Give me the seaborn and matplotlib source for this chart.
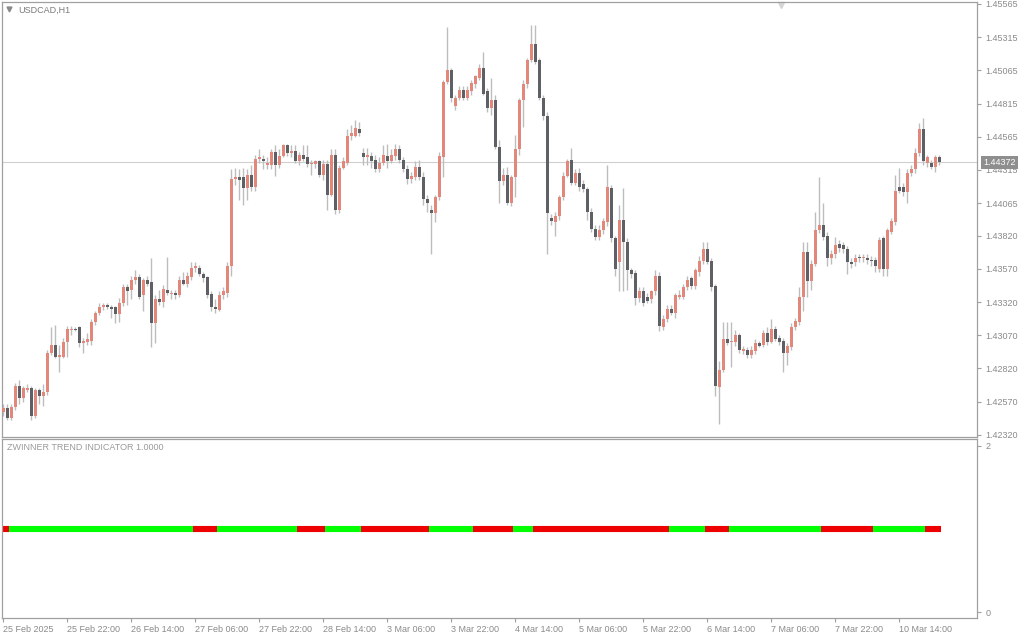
import numpy as np
import pandas as pd
import matplotlib
matplotlib.use("Agg")
import matplotlib.pyplot as plt
import matplotlib.transforms as mtransforms
import seaborn as sns

# USDCAD H1 candles (oldest first)
bar_open = [
    1.4249, 1.4252, 1.4245, 1.4253, 1.4269, 1.4260, 1.4266, 1.4267, 1.4246, 1.4266,
    1.4261, 1.4264, 1.4294, 1.4300, 1.4291, 1.4291, 1.4302, 1.4311, 1.4312, 1.4313,
    1.4301, 1.4302, 1.4303, 1.4317, 1.4324, 1.4328, 1.4330, 1.4328, 1.4328, 1.4323,
    1.4331, 1.4343, 1.4341, 1.4349, 1.4351, 1.4337, 1.4349, 1.4347, 1.4316, 1.4334,
    1.4332, 1.4341, 1.4338, 1.4339, 1.4337, 1.4349, 1.4346, 1.4351, 1.4358, 1.4358,
    1.4353, 1.4351, 1.4338, 1.4328, 1.4326, 1.4337, 1.4339, 1.4359, 1.4425, 1.4426,
    1.4426, 1.4418, 1.4428, 1.4419, 1.4440, 1.4440, 1.4435, 1.4435, 1.4445, 1.4435,
    1.4442, 1.4450, 1.4444, 1.4446, 1.4438, 1.4443, 1.4441, 1.4436, 1.4436, 1.4438,
    1.4428, 1.4436, 1.4413, 1.4443, 1.4401, 1.4433, 1.4437, 1.4457, 1.4457, 1.4462,
    1.4444, 1.4441, 1.4442, 1.4439, 1.4432, 1.4437, 1.4442, 1.4438, 1.4442, 1.4447,
    1.4439, 1.4432, 1.4425, 1.4426, 1.4434, 1.4426, 1.4410, 1.4401, 1.4399, 1.4411,
    1.4441, 1.4498, 1.4507, 1.4480, 1.4486, 1.4492, 1.4486, 1.4491, 1.4496, 1.4501,
    1.4508, 1.4491, 1.4478, 1.4484, 1.4449, 1.4423, 1.4428, 1.4407, 1.4426, 1.4447,
    1.4484, 1.4496, 1.4514, 1.4526, 1.4514, 1.4486, 1.4472, 1.4395, 1.4392, 1.4397,
    1.4411, 1.4427, 1.4439, 1.4422, 1.4429, 1.4421, 1.4417, 1.4400, 1.4387, 1.4381,
    1.4386, 1.4392, 1.4418, 1.4380, 1.4362, 1.4394, 1.4377, 1.4356, 1.4354, 1.4335,
    1.4340, 1.4336, 1.4334, 1.4340, 1.4352, 1.4313, 1.4319, 1.4327, 1.4324, 1.4336,
    1.4336, 1.4343, 1.4350, 1.4344, 1.4355, 1.4363, 1.4372, 1.4363, 1.4344, 1.4268,
    1.4281, 1.4304, 1.4302, 1.4302, 1.4307, 1.4295, 1.4296, 1.4292, 1.4295, 1.4301,
    1.4300, 1.4309, 1.4302, 1.4312, 1.4305, 1.4303, 1.4294, 1.4298, 1.4313, 1.4317,
    1.4336, 1.4370, 1.4348, 1.4361, 1.4386, 1.4390, 1.4382, 1.4365, 1.4368, 1.4376,
    1.4375, 1.4372, 1.4362, 1.4362, 1.4366, 1.4365, 1.4365, 1.4364, 1.4364, 1.4357,
    1.4380, 1.4357, 1.4385, 1.4392, 1.4419, 1.4419, 1.4415, 1.4429, 1.4432, 1.4444,
    1.4462, 1.4437, 1.4437, 1.4434, 1.4441,
]
bar_high = [
    1.4255, 1.4255, 1.4255, 1.4271, 1.4273, 1.4269, 1.4270, 1.4269, 1.4267, 1.4267,
    1.4270, 1.4296, 1.4313, 1.4315, 1.4300, 1.4305, 1.4314, 1.4314, 1.4313, 1.4314,
    1.4305, 1.4309, 1.4319, 1.4325, 1.4331, 1.4331, 1.4331, 1.4330, 1.4329, 1.4335,
    1.4346, 1.4346, 1.4352, 1.4356, 1.4353, 1.4350, 1.4352, 1.4365, 1.4337, 1.4341,
    1.4345, 1.4366, 1.4341, 1.4341, 1.4352, 1.4355, 1.4355, 1.4362, 1.4362, 1.4360,
    1.4355, 1.4352, 1.4340, 1.4334, 1.4340, 1.4343, 1.4362, 1.4432, 1.4433, 1.4432,
    1.4433, 1.4432, 1.4435, 1.4443, 1.4447, 1.4443, 1.4441, 1.4447, 1.4450, 1.4447,
    1.4451, 1.4451, 1.4450, 1.4450, 1.4445, 1.4450, 1.4450, 1.4439, 1.4439, 1.4439,
    1.4439, 1.4439, 1.4447, 1.4447, 1.4435, 1.4441, 1.4462, 1.4465, 1.4469, 1.4468,
    1.4448, 1.4448, 1.4445, 1.4443, 1.4441, 1.4450, 1.4451, 1.4447, 1.4451, 1.4450,
    1.4441, 1.4435, 1.4430, 1.4438, 1.4439, 1.4430, 1.4413, 1.4405, 1.4413, 1.4445,
    1.4499, 1.4539, 1.4508, 1.4488, 1.4495, 1.4495, 1.4495, 1.4499, 1.4503, 1.4511,
    1.4520, 1.4493, 1.4501, 1.4488, 1.4454, 1.4433, 1.4434, 1.4428, 1.4458, 1.4486,
    1.4499, 1.4516, 1.4541, 1.4541, 1.4516, 1.4488, 1.4475, 1.4398, 1.4400, 1.4413,
    1.4430, 1.4440, 1.4448, 1.4432, 1.4433, 1.4424, 1.4419, 1.4403, 1.4390, 1.4390,
    1.4395, 1.4435, 1.4420, 1.4382, 1.4405, 1.4418, 1.4380, 1.4358, 1.4356, 1.4343,
    1.4343, 1.4339, 1.4341, 1.4356, 1.4355, 1.4322, 1.4330, 1.4330, 1.4339, 1.4341,
    1.4346, 1.4352, 1.4352, 1.4358, 1.4367, 1.4377, 1.4377, 1.4365, 1.4346, 1.4288,
    1.4317, 1.4317, 1.4317, 1.4311, 1.4309, 1.4299, 1.4298, 1.4299, 1.4304, 1.4303,
    1.4311, 1.4313, 1.4319, 1.4314, 1.4307, 1.4305, 1.4301, 1.4316, 1.4320, 1.4343,
    1.4377, 1.4377, 1.4364, 1.4400, 1.4426, 1.4407, 1.4385, 1.4371, 1.4381, 1.4379,
    1.4377, 1.4374, 1.4365, 1.4368, 1.4368, 1.4368, 1.4368, 1.4367, 1.4366, 1.4381,
    1.4382, 1.4388, 1.4395, 1.4428, 1.4433, 1.4422, 1.4432, 1.4435, 1.4448, 1.4467,
    1.4471, 1.4443, 1.4439, 1.4443, 1.4443,
]
bar_low = [
    1.4246, 1.4243, 1.4243, 1.4251, 1.4255, 1.4257, 1.4264, 1.4243, 1.4245, 1.4255,
    1.4254, 1.4262, 1.4292, 1.4290, 1.4279, 1.4290, 1.4291, 1.4307, 1.4310, 1.4298,
    1.4294, 1.4300, 1.4300, 1.4315, 1.4322, 1.4326, 1.4327, 1.4320, 1.4316, 1.4317,
    1.4329, 1.4330, 1.4334, 1.4346, 1.4334, 1.4325, 1.4344, 1.4298, 1.4301, 1.4330,
    1.4328, 1.4337, 1.4334, 1.4334, 1.4336, 1.4345, 1.4343, 1.4349, 1.4355, 1.4352,
    1.4347, 1.4335, 1.4325, 1.4324, 1.4325, 1.4334, 1.4336, 1.4352, 1.4420, 1.4409,
    1.4405, 1.4409, 1.4416, 1.4416, 1.4437, 1.4432, 1.4432, 1.4432, 1.4427, 1.4433,
    1.4441, 1.4442, 1.4441, 1.4437, 1.4435, 1.4438, 1.4434, 1.4428, 1.4433, 1.4426,
    1.4424, 1.4401, 1.4412, 1.4398, 1.4399, 1.4432, 1.4435, 1.4454, 1.4456, 1.4457,
    1.4435, 1.4435, 1.4433, 1.4430, 1.4430, 1.4435, 1.4433, 1.4437, 1.4439, 1.4437,
    1.4430, 1.4421, 1.4422, 1.4424, 1.4424, 1.4405, 1.4400, 1.4368, 1.4392, 1.4409,
    1.4426, 1.4496, 1.4483, 1.4477, 1.4484, 1.4484, 1.4484, 1.4488, 1.4493, 1.4499,
    1.4488, 1.4475, 1.4473, 1.4447, 1.4407, 1.4420, 1.4405, 1.4404, 1.4411, 1.4443,
    1.4464, 1.4493, 1.4513, 1.4511, 1.4484, 1.4469, 1.4368, 1.4390, 1.4382, 1.4394,
    1.4409, 1.4426, 1.4420, 1.4420, 1.4416, 1.4415, 1.4394, 1.4385, 1.4379, 1.4379,
    1.4383, 1.4389, 1.4377, 1.4352, 1.4340, 1.4340, 1.4341, 1.4350, 1.4330, 1.4332,
    1.4329, 1.4331, 1.4331, 1.4337, 1.4310, 1.4311, 1.4317, 1.4322, 1.4320, 1.4334,
    1.4334, 1.4341, 1.4342, 1.4342, 1.4352, 1.4361, 1.4361, 1.4340, 1.4261, 1.4240,
    1.4279, 1.4300, 1.4283, 1.4299, 1.4294, 1.4293, 1.4290, 1.4290, 1.4293, 1.4298,
    1.4298, 1.4300, 1.4301, 1.4303, 1.4300, 1.4279, 1.4285, 1.4296, 1.4311, 1.4315,
    1.4325, 1.4336, 1.4341, 1.4359, 1.4384, 1.4379, 1.4359, 1.4361, 1.4365, 1.4370,
    1.4369, 1.4353, 1.4358, 1.4359, 1.4362, 1.4362, 1.4361, 1.4359, 1.4355, 1.4355,
    1.4352, 1.4352, 1.4383, 1.4390, 1.4414, 1.4412, 1.4407, 1.4427, 1.4429, 1.4442,
    1.4435, 1.4434, 1.4432, 1.4430, 1.4435,
]
bar_close = [
    1.4252, 1.4245, 1.4253, 1.4269, 1.4260, 1.4267, 1.4267, 1.4246, 1.4266, 1.4261,
    1.4264, 1.4294, 1.4300, 1.4291, 1.4292, 1.4302, 1.4312, 1.4312, 1.4311, 1.4301,
    1.4303, 1.4304, 1.4317, 1.4324, 1.4328, 1.4330, 1.4328, 1.4327, 1.4323, 1.4331,
    1.4343, 1.4340, 1.4349, 1.4351, 1.4336, 1.4349, 1.4346, 1.4316, 1.4334, 1.4332,
    1.4342, 1.4339, 1.4339, 1.4337, 1.4349, 1.4346, 1.4352, 1.4358, 1.4359, 1.4353,
    1.4350, 1.4337, 1.4328, 1.4327, 1.4337, 1.4340, 1.4359, 1.4425, 1.4426, 1.4424,
    1.4418, 1.4428, 1.4419, 1.4440, 1.4441, 1.4438, 1.4437, 1.4445, 1.4435, 1.4442,
    1.4450, 1.4444, 1.4446, 1.4438, 1.4443, 1.4440, 1.4436, 1.4437, 1.4438, 1.4428,
    1.4436, 1.4413, 1.4443, 1.4401, 1.4433, 1.4438, 1.4457, 1.4459, 1.4463, 1.4459,
    1.4441, 1.4443, 1.4438, 1.4432, 1.4437, 1.4443, 1.4438, 1.4443, 1.4447, 1.4439,
    1.4432, 1.4425, 1.4427, 1.4434, 1.4426, 1.4410, 1.4407, 1.4399, 1.4411, 1.4442,
    1.4498, 1.4507, 1.4486, 1.4486, 1.4492, 1.4486, 1.4492, 1.4497, 1.4502, 1.4508,
    1.4489, 1.4478, 1.4484, 1.4449, 1.4423, 1.4428, 1.4407, 1.4426, 1.4447, 1.4484,
    1.4496, 1.4514, 1.4526, 1.4513, 1.4486, 1.4472, 1.4399, 1.4393, 1.4397, 1.4411,
    1.4427, 1.4438, 1.4422, 1.4429, 1.4419, 1.4417, 1.4400, 1.4387, 1.4381, 1.4386,
    1.4393, 1.4419, 1.4380, 1.4357, 1.4394, 1.4377, 1.4356, 1.4353, 1.4335, 1.4340,
    1.4331, 1.4333, 1.4340, 1.4352, 1.4314, 1.4319, 1.4327, 1.4324, 1.4337, 1.4337,
    1.4343, 1.4349, 1.4344, 1.4356, 1.4363, 1.4372, 1.4362, 1.4343, 1.4269, 1.4281,
    1.4304, 1.4301, 1.4303, 1.4307, 1.4296, 1.4297, 1.4292, 1.4296, 1.4301, 1.4299,
    1.4309, 1.4302, 1.4312, 1.4304, 1.4302, 1.4294, 1.4299, 1.4313, 1.4318, 1.4336,
    1.4370, 1.4348, 1.4361, 1.4386, 1.4390, 1.4381, 1.4365, 1.4368, 1.4375, 1.4373,
    1.4372, 1.4362, 1.4361, 1.4365, 1.4365, 1.4366, 1.4364, 1.4363, 1.4359, 1.4379,
    1.4357, 1.4386, 1.4393, 1.4416, 1.4416, 1.4415, 1.4429, 1.4432, 1.4444, 1.4462,
    1.4438, 1.4441, 1.4434, 1.4441, 1.44372,
]

# trend indicator: colour runs (in bars) along value 1
trend_value = 1
trend_runs = ["red", "green", "red", "green", "red", "green", "red", "green", "red",
              "green", "red", "green", "red", "green", "red", "green", "red"]
trend_lengths = [2, 46, 6, 20, 7, 9, 17, 11, 10, 5, 34, 9, 6, 23, 13, 13, 4]

time_ticks = [0, 16, 32, 48, 64, 80, 96, 112, 128, 144, 160, 176, 192, 208, 224]
time_labels = ["25 Feb 2025", "25 Feb 22:00", "26 Feb 14:00", "27 Feb 06:00",
               "27 Feb 22:00", "28 Feb 14:00", "3 Mar 06:00", "3 Mar 22:00",
               "4 Mar 14:00", "5 Mar 06:00", "5 Mar 22:00", "6 Mar 14:00",
               "7 Mar 06:00", "7 Mar 22:00", "10 Mar 14:00"]
price_ticks = [1.45565, 1.45315, 1.45065, 1.44815, 1.44565, 1.44315, 1.44065,
               1.43820, 1.43570, 1.43320, 1.43070, 1.42820, 1.42570, 1.42320]
last_price = 1.44372

BULL = "#E4877B"
BEAR = "#5E6065"
WICK = "#BDBDBD"
FRAME = "#A0A0A0"
LABEL = "#8A8A8A"
TREND = {"green": "#00FF00", "red": "#EE0000"}

sns.set_style("white")
plt.rcParams["font.family"] = ["Liberation Sans", "DejaVu Sans"]

df = pd.DataFrame({"open": bar_open, "high": bar_high,
                   "low": bar_low, "close": bar_close})
df["bar"] = np.arange(len(df))
df["up"] = df["close"] >= df["open"]
df["body_lo"] = df[["open", "close"]].min(axis=1)
df["body_h"] = (df["close"] - df["open"]).abs().clip(lower=0.00008)

fig = plt.figure(figsize=(10.24, 6.4), dpi=100)
ax = fig.add_axes([2 / 1024, 1 - 437 / 640, 975 / 1024, 435 / 640])
ax2 = fig.add_axes([2 / 1024, 1 - 618 / 640, 975 / 1024, 179 / 640])

# --- price panel
ax.vlines(df["bar"], df["low"], df["high"], color=WICK, lw=1, zorder=2)
for is_up, colour in [(True, BULL), (False, BEAR)]:
    part = df[df["up"] == is_up]
    ax.bar(part["bar"], part["body_h"], bottom=part["body_lo"], width=0.75,
           color=colour, linewidth=0, zorder=3)

ax.axhline(last_price, color="#CFCFCF", lw=0.8, zorder=1)
ax.set_xlim(-0.3, 243.5)
ax.set_ylim(1.42304, 1.45580)
ax.yaxis.tick_right()
ax.set_yticks(price_ticks)
ax.set_yticklabels([f"{p:.5f}" for p in price_ticks])
ax.tick_params(axis="y", right=True, length=3, width=0.8, color=FRAME,
               labelsize=6.5, labelcolor=LABEL, pad=3)
ax.tick_params(axis="x", bottom=False, labelbottom=False)

blend = mtransforms.blended_transform_factory(ax.transAxes, ax.transData)
ax.text(1.0062, last_price, f"{last_price:.5f}", transform=blend, ha="left",
        va="center", fontsize=6.5, color="white", clip_on=False, zorder=5,
        bbox=dict(boxstyle="square,pad=0.25", fc="#8E8E8E", ec="none"))

ax.text(0.0165, 0.982, "USDCAD,H1", transform=ax.transAxes, ha="left",
        va="center", fontsize=6.5, color="#7A7A7A")
ax.plot([0.0072], [0.983], marker="v", ms=3.5, color="#8A8A8A",
        transform=ax.transAxes, clip_on=False)
ax.plot([0.799], [0.993], marker="v", ms=4, color="#D5D5D5",
        transform=ax.transAxes, clip_on=False)

# --- trend indicator panel
starts = np.cumsum([0] + trend_lengths[:-1])
for s, n, c in zip(starts, trend_lengths, trend_runs):
    ax2.hlines(trend_value, s - 0.5, s + n - 0.5, color=TREND[c], lw=4.4,
               capstyle="butt")
ax2.set_xlim(ax.get_xlim())
ax2.set_ylim(-0.072, 2.084)
ax2.yaxis.tick_right()
ax2.set_yticks([0, 2])
ax2.set_yticklabels(["0", "2"])
ax2.set_xticks(time_ticks)
ax2.set_xticklabels(time_labels, ha="left")
ax2.tick_params(axis="y", right=True, length=3, width=0.8, color=FRAME,
                labelsize=6.5, labelcolor=LABEL, pad=3)
ax2.tick_params(axis="x", bottom=True, length=3, width=0.8, color=FRAME,
                labelsize=6.5, labelcolor=LABEL, pad=2)
ax2.text(0.005, 0.95, "ZWINNER TREND INDICATOR 1.0000", transform=ax2.transAxes,
         ha="left", va="center", fontsize=6.5, color="#9A9A9A")

for a in (ax, ax2):
    for sp in a.spines.values():
        sp.set_visible(True)
        sp.set_color(FRAME)
        sp.set_linewidth(0.9)
    a.set_facecolor("white")

fig.savefig("out.png", dpi=100, facecolor="white")
